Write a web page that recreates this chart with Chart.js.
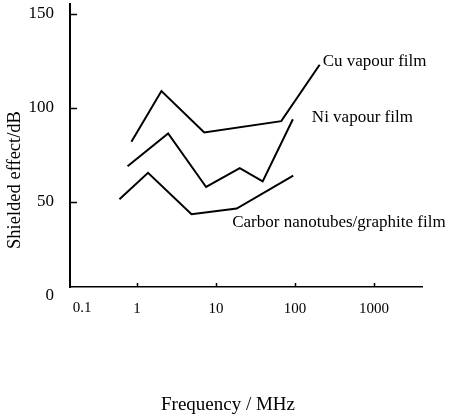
<!DOCTYPE html>
<html>
<head>
<meta charset="utf-8">
<script src="https://cdn.jsdelivr.net/npm/chart.js@4.4.0/dist/chart.umd.min.js"></script>
<style>
  html, body { margin: 0; padding: 0; background: #fff; }
  #wrap { width: 465px; height: 420px; }
</style>
</head>
<body>
<div id="wrap"><canvas id="myChart" width="465" height="420"></canvas></div>
<script>
// Measured points, frequency in MHz / shielding in dB
var cuFreq = [0.85, 2.04, 7.1, 67, 205];
var cuValues = [82, 109, 87, 93, 123];
var niFreq = [0.76, 2.48, 7.5, 20, 39, 94];
var niValues = [69, 86.5, 58, 68, 61, 94];
var carbonFreq = [0.6, 1.38, 4.9, 18.3, 95];
var carbonValues = [51.5, 65.5, 43.5, 46.5, 64];

var seriesNames = ["Cu vapour film", "Ni vapour film", "Carbor nanotubes/graphite film"];

// Axis ticks
var xTickValues = [1, 10, 100, 1000];
var xOriginLabel = "0.1";
var yTickValues = [0, 50, 100, 150];
var xTitle = "Frequency / MHz";
var yTitle = "Shielded effect/dB";

var serif = "'Liberation Serif', 'Times New Roman', serif";

function toPoints(xs, ys) {
  return xs.map(function (x, i) { return { x: x, y: ys[i] }; });
}

function lineDataset(name, xs, ys) {
  return {
    label: name,
    data: toPoints(xs, ys),
    borderColor: "#000",
    borderWidth: 2,
    pointRadius: 0,
    tension: 0,
    fill: false
  };
}

// Extra drawing: inner tick marks, origin label, curve names and axis titles
var annotations = {
  id: "annotations",
  afterDraw: function (chart) {
    var ctx = chart.ctx;
    var x = chart.scales.x;
    var y = chart.scales.y;
    var area = chart.chartArea;
    ctx.save();
    ctx.strokeStyle = "#000";
    ctx.lineWidth = 1.5;
    yTickValues.forEach(function (v) {
      if (v < y.min || v > y.max) return;
      var py = Math.round(y.getPixelForValue(v)) + 0.5;
      ctx.beginPath();
      ctx.moveTo(area.left, py);
      ctx.lineTo(area.left + 7, py);
      ctx.stroke();
    });
    xTickValues.forEach(function (v) {
      var px = Math.round(x.getPixelForValue(v)) + 0.5;
      ctx.beginPath();
      ctx.moveTo(px, area.bottom);
      ctx.lineTo(px, area.bottom - 4);
      ctx.stroke();
    });

    ctx.fillStyle = "#000";
    ctx.textBaseline = "middle";
    ctx.textAlign = "center";
    ctx.font = "15px " + serif;
    ctx.fillText(xOriginLabel, area.left + 12, area.bottom + 21);

    // curve names next to their lines
    var offsets = [[3, -3], [19, -2], [-61, 47]];
    ctx.textAlign = "left";
    ctx.font = "17px " + serif;
    chart.data.datasets.forEach(function (ds, i) {
      var last = ds.data[ds.data.length - 1];
      var px = x.getPixelForValue(last.x);
      var py = y.getPixelForValue(last.y);
      ctx.fillText(seriesNames[i], px + offsets[i][0], py + offsets[i][1]);
    });

    ctx.textAlign = "center";
    ctx.font = "19px " + serif;
    ctx.fillText(xTitle, 228, 405);

    ctx.translate(15, 180);
    ctx.rotate(-Math.PI / 2);
    ctx.font = "18.5px " + serif;
    ctx.fillText(yTitle, 0, 0);
    ctx.restore();
  }
};

var ctx = document.getElementById("myChart").getContext("2d");
var myChart = new Chart(ctx, {
  type: "line",
  data: {
    datasets: [
      lineDataset(seriesNames[0], cuFreq, cuValues),
      lineDataset(seriesNames[1], niFreq, niValues),
      lineDataset(seriesNames[2], carbonFreq, carbonValues)
    ]
  },
  options: {
    responsive: false,
    animation: false,
    devicePixelRatio: 1,
    layout: { padding: { top: 4, right: 43, left: 0, bottom: 0 } },
    plugins: {
      legend: { display: false },
      tooltip: { enabled: false }
    },
    scales: {
      x: {
        type: "logarithmic",
        min: 0.142,
        max: 4050,
        afterBuildTicks: function (scale) {
          scale.ticks = xTickValues.map(function (v) { return { value: v }; });
        },
        afterFit: function (scale) {
          scale.height = 133;
          scale.paddingLeft = 0;
          scale.paddingRight = 0;
        },
        grid: { display: false },
        border: { display: true, color: "#000", width: 1.5 },
        ticks: {
          autoSkip: false,
          maxRotation: 0,
          padding: 5,
          color: "#000",
          font: { family: serif, size: 15 },
          callback: function (value) { return String(value); }
        }
      },
      y: {
        type: "linear",
        min: 4.8,
        max: 155.3,
        afterBuildTicks: function (scale) {
          scale.ticks = yTickValues.map(function (v) { return { value: v }; });
        },
        afterFit: function (scale) {
          scale.width = 70;
          scale.paddingTop = 0;
          scale.paddingBottom = 0;
        },
        grid: { display: false },
        border: { display: true, color: "#000", width: 2 },
        ticks: {
          autoSkip: false,
          padding: 8,
          color: "#000",
          font: { family: serif, size: 17 },
          callback: function (value) { return String(value); }
        }
      }
    }
  },
  plugins: [annotations]
});
</script>
</body>
</html>
